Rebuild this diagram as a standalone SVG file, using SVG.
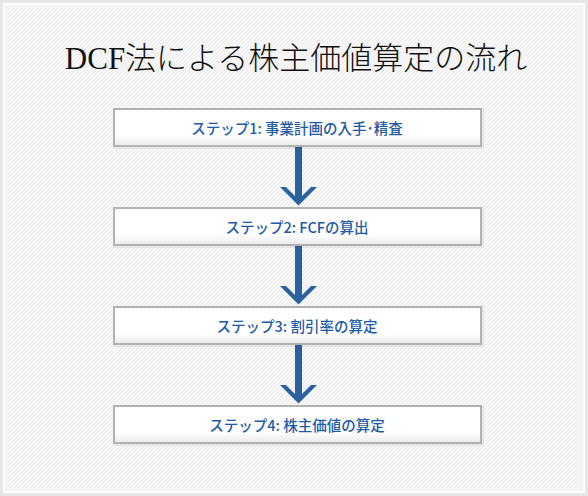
<svg xmlns="http://www.w3.org/2000/svg" width="588" height="496" viewBox="0 0 588 496">
<defs>
<pattern id="stripes" x="0" y="0" width="4" height="4" patternUnits="userSpaceOnUse">
<rect width="4" height="4" fill="#efefef"/>
<path d="M-1,1 L1,-1 M0,4 L4,0 M3,5 L5,3" stroke="#fafafa" stroke-width="1.3"/>
</pattern>
<linearGradient id="boxfill" x1="0" y1="0" x2="0" y2="1">
<stop offset="0" stop-color="#ffffff"/>
<stop offset="0.72" stop-color="#ffffff"/>
<stop offset="1" stop-color="#e9e9e9"/>
</linearGradient>
<path id="arrow" d="M-3.5,0 L3.5,0 L3.5,49 L12.5,40 L18.5,40 L0,58.5 L-18.5,40 L-12.5,40 L-3.5,49 Z"/>
</defs>
<style>
.box{fill:url(#boxfill);stroke:#b2b2b2;stroke-width:2}
.shadow{fill:#000;opacity:0.06}
.lbl{font-family:"Noto Sans CJK JP","Liberation Sans",sans-serif;font-size:14.5px;font-weight:500;fill:#1d5ba4;text-anchor:middle}
.title{font-family:"Liberation Serif","Noto Sans CJK JP",serif;font-size:31px;font-weight:300;fill:#111;text-anchor:middle}
.arr{fill:#2a62a0}
</style>
<rect x="0" y="0" width="588" height="496" fill="#e6e6e6"/>
<rect x="3" y="3" width="582" height="490" fill="#ffffff"/>
<rect x="5" y="5" width="578" height="486" fill="url(#stripes)"/>
<g id="title">
<text class="title" x="296" y="69">DCF法による株主価値算定の流れ</text>
</g>
<g id="connectors">
<use href="#arrow" class="arr" x="298.5" y="147"/>
<use href="#arrow" class="arr" x="298.5" y="246"/>
<use href="#arrow" class="arr" x="298.5" y="345"/>
</g>
<g id="step1">
<rect class="shadow" x="113" y="108" width="371" height="41"/>
<rect class="box" x="114" y="109" width="367" height="37"/>
<text class="lbl" x="297" y="133.5">ステップ1: 事業計画の入手･精査</text>
</g>
<g id="step2">
<rect class="shadow" x="113" y="207" width="371" height="41"/>
<rect class="box" x="114" y="208" width="367" height="37"/>
<text class="lbl" x="297" y="232.5">ステップ2: FCFの算出</text>
</g>
<g id="step3">
<rect class="shadow" x="113" y="306" width="371" height="41"/>
<rect class="box" x="114" y="307" width="367" height="37"/>
<text class="lbl" x="297" y="331.5">ステップ3: 割引率の算定</text>
</g>
<g id="step4">
<rect class="shadow" x="113" y="405" width="371" height="41"/>
<rect class="box" x="114" y="406" width="367" height="37"/>
<text class="lbl" x="297" y="430.5">ステップ4: 株主価値の算定</text>
</g>
</svg>
